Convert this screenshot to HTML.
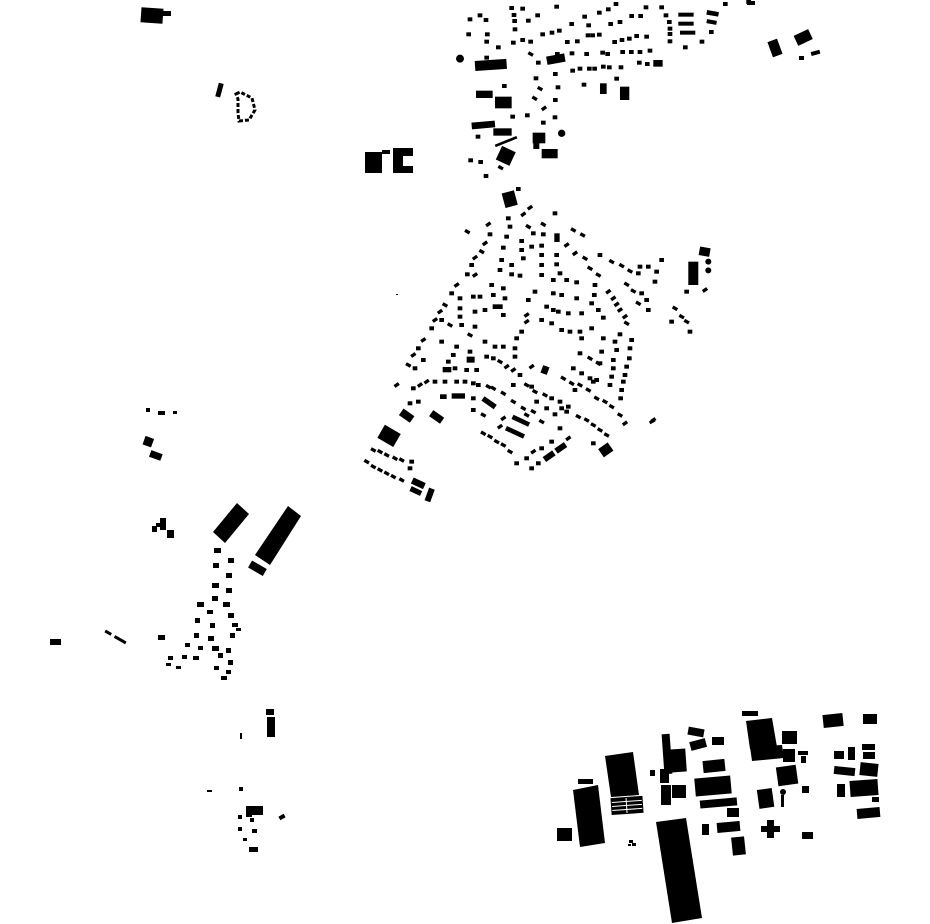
<!DOCTYPE html>
<html><head><meta charset="utf-8"><style>html,body{margin:0;padding:0;background:#fff;width:930px;height:924px;overflow:hidden}svg{display:block}</style></head><body>
<svg width="930" height="924" viewBox="0 0 930 924" xmlns="http://www.w3.org/2000/svg">
<defs>
<rect id="b" x="-7" y="-6" width="14" height="12"/>
<rect id="r" x="-8" y="-5" width="16" height="10" transform="rotate(30)"/>
<rect id="q" x="-8" y="-5" width="16" height="10" transform="rotate(-35)"/>
</defs>
<g fill="#000">
<!-- north town -->
<g transform="translate(440,0) scale(0.3333)">
<circle cx="60" cy="176" r="12"/><circle cx="365" cy="400" r="11"/>
<rect x="105" y="180" width="95" height="30" transform="rotate(-4 150 195)"/>
<rect x="108" y="272" width="50" height="22"/><rect x="95" y="365" width="70" height="20" transform="rotate(-5 130 375)"/>
<rect x="160" y="385" width="55" height="22"/><rect x="165" y="290" width="50" height="35"/>
<rect x="163" y="420" width="70" height="8" transform="rotate(-22 200 424)"/>
<rect x="175" y="445" width="45" height="45" transform="rotate(25 197 467)"/>
<rect x="278" y="398" width="38" height="32"/><rect x="280" y="425" width="18" height="22"/>
<rect x="305" y="447" width="48" height="28"/><rect x="320" y="165" width="55" height="25" transform="rotate(-10 347 177)"/>
<rect x="540" y="260" width="28" height="40"/><rect x="480" y="250" width="20" height="32"/>
<rect x="715" y="38" width="46" height="12"/><rect x="715" y="65" width="46" height="12"/><rect x="720" y="92" width="46" height="12"/>
<rect x="800" y="33" width="36" height="14" transform="rotate(10 818 40)"/><rect x="800" y="60" width="30" height="12" transform="rotate(10 815 66)"/>
<rect x="990" y="120" width="30" height="48" transform="rotate(-20 1005 144)"/>
<rect x="640" y="180" width="28" height="20"/>
<use href="#b" x="90" y="58"/><use href="#b" x="120" y="46"/><use href="#b" x="138" y="60"/><use href="#b" x="86" y="103"/><use href="#b" x="142" y="103"/><use href="#b" x="140" y="125"/><use href="#b" x="175" y="142"/><use href="#b" x="140" y="173"/><use href="#b" x="193" y="258"/>
<use href="#b" x="215" y="24"/><use href="#b" x="248" y="26"/><use href="#b" x="222" y="45"/><use href="#b" x="224" y="63"/><use href="#b" x="265" y="62"/><use href="#b" x="293" y="46"/><use href="#b" x="225" y="88"/><use href="#b" x="248" y="120"/><use href="#b" x="272" y="125"/><use href="#b" x="220" y="128"/><use href="#b" x="308" y="103"/><use href="#b" x="336" y="98"/><use href="#b" x="358" y="92"/><use href="#b" x="350" y="20"/><use href="#b" x="395" y="72"/><use href="#b" x="434" y="50"/><use href="#b" x="446" y="76"/><use href="#b" x="478" y="38"/><use href="#b" x="505" y="28"/><use href="#b" x="528" y="12"/><use href="#b" x="512" y="72"/><use href="#b" x="540" y="66"/><use href="#b" x="575" y="48"/><use href="#b" x="602" y="48"/><use href="#b" x="618" y="22"/><use href="#b" x="665" y="22"/><use href="#b" x="678" y="46"/><use href="#b" x="688" y="66"/><use href="#b" x="690" y="86"/><use href="#b" x="690" y="102"/><use href="#b" x="690" y="124"/><use href="#b" x="736" y="142"/><use href="#b" x="786" y="125"/><use href="#b" x="814" y="96"/><use href="#b" x="856" y="12"/><use href="#b" x="926" y="6"/>
<use href="#r" x="272" y="162"/><use href="#b" x="295" y="188"/><use href="#b" x="352" y="162"/><use href="#b" x="382" y="126"/><use href="#b" x="412" y="124"/><use href="#b" x="396" y="160"/><use href="#b" x="440" y="162"/><use href="#b" x="488" y="158"/><use href="#b" x="503" y="162"/><use href="#b" x="548" y="156"/><use href="#b" x="574" y="156"/><use href="#b" x="600" y="156"/><use href="#b" x="630" y="152"/><use href="#b" x="444" y="106"/><use href="#b" x="458" y="106"/><use href="#b" x="478" y="104"/><use href="#b" x="524" y="126"/><use href="#b" x="546" y="120"/><use href="#b" x="568" y="116"/><use href="#b" x="590" y="108"/><use href="#b" x="620" y="110"/><use href="#b" x="598" y="188"/><use href="#b" x="622" y="192"/><use href="#b" x="398" y="212"/><use href="#b" x="420" y="206"/><use href="#b" x="448" y="206"/><use href="#b" x="464" y="206"/><use href="#b" x="490" y="200"/><use href="#b" x="508" y="202"/><use href="#b" x="543" y="202"/><use href="#b" x="530" y="236"/><use href="#b" x="432" y="254"/>
<use href="#b" x="288" y="235"/><use href="#r" x="300" y="266"/><use href="#b" x="346" y="222"/><use href="#b" x="354" y="262"/><use href="#r" x="284" y="295"/><use href="#b" x="346" y="300"/><use href="#q" x="312" y="325"/><use href="#b" x="218" y="350"/><use href="#b" x="262" y="346"/><use href="#b" x="310" y="368"/><use href="#b" x="345" y="352"/><use href="#b" x="114" y="410"/><use href="#b" x="92" y="481"/><use href="#b" x="122" y="486"/><use href="#r" x="182" y="503"/><use href="#b" x="138" y="528"/>
</g>
<!-- NE bits -->
<rect x="770" y="40" width="10" height="16" transform="rotate(-20 775 48)"/>
<rect x="795" y="32" width="16" height="11" transform="rotate(-25 803 37)"/><rect x="799" y="56" width="5" height="4"/><rect x="811" y="51" width="9" height="4" transform="rotate(-15 815 53)"/><rect x="747" y="1" width="8" height="4"/>
<!-- NW -->
<rect x="141" y="8" width="22" height="15" transform="rotate(4 152 15)"/><rect x="161" y="11" width="10" height="5"/>
<rect x="217" y="83" width="5" height="14" transform="rotate(15 219 90)"/>
<path d="M236 94 l4 -2 l12 6 l3 12 l-6 10 l-10 1 l-1 -8 l0 -14z" fill="none" stroke="#000" stroke-width="3" stroke-dasharray="4 2"/>
<rect x="365" y="152" width="17" height="21"/><path d="M393 148h20v8h-10v10h10v7h-20z"/><rect x="382" y="150" width="8" height="4"/>
<!-- middle town -->
<g transform="translate(360,185) scale(0.3333)">
<rect x="430" y="20" width="38" height="45" transform="rotate(-15 449 42)"/>
<rect x="985" y="230" width="30" height="70"/><rect x="1018" y="187" width="32" height="26" transform="rotate(10 1034 200)"/>
<circle cx="1045" cy="230" r="9"/><circle cx="1045" cy="256" r="9"/>
<rect x="60" y="730" width="55" height="45" transform="rotate(30 87 752)"/>
<rect x="155" y="885" width="40" height="20" transform="rotate(25 175 895)"/><rect x="150" y="910" width="35" height="16" transform="rotate(25 167 918)"/><rect x="200" y="910" width="18" height="40" transform="rotate(20 209 930)"/>
<rect x="720" y="780" width="35" height="30" transform="rotate(-35 737 795)"/>
<rect x="275" y="625" width="40" height="16"/><rect x="240" y="628" width="20" height="14"/>
<rect x="120" y="680" width="40" height="24" transform="rotate(35 140 692)"/><rect x="210" y="685" width="40" height="22" transform="rotate(35 230 696)"/>
<rect x="455" y="700" width="55" height="14" transform="rotate(25 482 707)"/><rect x="435" y="735" width="60" height="14" transform="rotate(25 465 742)"/>
<rect x="365" y="645" width="45" height="16" transform="rotate(35 387 653)"/>
<use href="#b" x="475" y="12"/><use href="#q" x="510" y="68"/><use href="#q" x="490" y="88"/><use href="#b" x="445" y="100"/><use href="#b" x="450" y="125"/><use href="#r" x="505" y="125"/><use href="#b" x="520" y="145"/><use href="#r" x="550" y="118"/><use href="#b" x="550" y="148"/><use href="#b" x="585" y="85"/><rect x="583" y="145" width="16" height="26"/>
<use href="#r" x="322" y="140"/><use href="#q" x="385" y="118"/><use href="#b" x="390" y="148"/><use href="#q" x="375" y="175"/><use href="#r" x="365" y="200"/><use href="#q" x="345" y="218"/><use href="#b" x="335" y="240"/><use href="#b" x="322" y="268"/><use href="#q" x="345" y="270"/>
<use href="#b" x="440" y="155"/><use href="#b" x="430" y="188"/><use href="#b" x="485" y="168"/><use href="#b" x="485" y="195"/><use href="#b" x="515" y="185"/><use href="#b" x="490" y="220"/><use href="#b" x="545" y="182"/><use href="#b" x="545" y="210"/><use href="#b" x="590" y="210"/><use href="#b" x="590" y="238"/>
<use href="#b" x="425" y="225"/><use href="#b" x="455" y="240"/><use href="#b" x="420" y="255"/><use href="#b" x="455" y="268"/><use href="#b" x="480" y="272"/><use href="#b" x="545" y="240"/><use href="#b" x="545" y="270"/><use href="#b" x="600" y="265"/>
<use href="#r" x="640" y="135"/><use href="#r" x="668" y="150"/><use href="#q" x="620" y="180"/><use href="#q" x="645" y="205"/><use href="#r" x="675" y="220"/><use href="#r" x="690" y="250"/><use href="#b" x="720" y="210"/><use href="#r" x="715" y="270"/><use href="#r" x="755" y="230"/><use href="#r" x="785" y="242"/><use href="#r" x="810" y="258"/><use href="#b" x="835" y="265"/><use href="#b" x="840" y="245"/><use href="#b" x="865" y="245"/><use href="#b" x="890" y="260"/><use href="#b" x="905" y="225"/><use href="#b" x="885" y="290"/>
<use href="#b" x="580" y="285"/><use href="#b" x="620" y="285"/><use href="#b" x="650" y="292"/><use href="#b" x="705" y="300"/><use href="#r" x="800" y="298"/><use href="#r" x="820" y="318"/><use href="#b" x="845" y="325"/><use href="#r" x="835" y="355"/><use href="#b" x="860" y="345"/><use href="#b" x="865" y="375"/>
<use href="#q" x="745" y="320"/><use href="#q" x="760" y="340"/><use href="#q" x="770" y="358"/><use href="#q" x="780" y="375"/><use href="#q" x="795" y="395"/><use href="#r" x="800" y="415"/><use href="#b" x="703" y="330"/><use href="#b" x="695" y="355"/><use href="#b" x="715" y="375"/><use href="#b" x="730" y="398"/><use href="#b" x="695" y="430"/>
<use href="#b" x="580" y="325"/><use href="#b" x="605" y="330"/><use href="#b" x="650" y="340"/><use href="#b" x="580" y="375"/><use href="#b" x="595" y="380"/><use href="#b" x="625" y="385"/><use href="#b" x="665" y="385"/><use href="#b" x="560" y="365"/>
<use href="#b" x="545" y="405"/><use href="#b" x="575" y="415"/><use href="#b" x="605" y="435"/><use href="#b" x="630" y="440"/><use href="#b" x="660" y="440"/><use href="#b" x="665" y="460"/>
<use href="#b" x="525" y="320"/><use href="#b" x="505" y="345"/><use href="#q" x="500" y="390"/><use href="#q" x="500" y="410"/><use href="#b" x="485" y="440"/><use href="#b" x="470" y="460"/><use href="#b" x="465" y="490"/><use href="#b" x="465" y="515"/>
<use href="#b" x="395" y="300"/><use href="#b" x="430" y="310"/><use href="#b" x="400" y="330"/><use href="#b" x="360" y="335"/><use href="#b" x="340" y="335"/><use href="#b" x="300" y="340"/><use href="#q" x="290" y="300"/><use href="#b" x="275" y="325"/><use href="#b" x="300" y="370"/><use href="#b" x="300" y="395"/><use href="#b" x="345" y="380"/><use href="#b" x="375" y="375"/><rect x="398" y="358" width="30" height="14"/><use href="#b" x="430" y="390"/><use href="#b" x="435" y="340"/>
<use href="#r" x="255" y="360"/><use href="#q" x="240" y="380"/><use href="#q" x="225" y="405"/><use href="#b" x="245" y="405"/><use href="#b" x="215" y="430"/><use href="#r" x="270" y="420"/><use href="#b" x="305" y="420"/><use href="#r" x="330" y="450"/><use href="#b" x="345" y="425"/>
<use href="#q" x="190" y="465"/><use href="#b" x="175" y="490"/><use href="#q" x="160" y="510"/><use href="#r" x="145" y="540"/><use href="#b" x="165" y="550"/><use href="#b" x="190" y="525"/><use href="#b" x="245" y="470"/><use href="#b" x="290" y="485"/><use href="#b" x="280" y="510"/><use href="#b" x="265" y="530"/><rect x="248" y="546" width="26" height="16"/><use href="#b" x="285" y="550"/>
<use href="#b" x="330" y="500"/><rect x="320" y="515" width="24" height="18"/><use href="#b" x="320" y="555"/><use href="#b" x="350" y="555"/><use href="#b" x="380" y="515"/><use href="#b" x="400" y="520"/><use href="#r" x="420" y="530"/><use href="#q" x="440" y="545"/><use href="#q" x="460" y="555"/><use href="#b" x="480" y="570"/><use href="#b" x="405" y="485"/><use href="#b" x="375" y="470"/><use href="#b" x="430" y="485"/>
<use href="#q" x="180" y="600"/><use href="#q" x="200" y="590"/><use href="#b" x="225" y="590"/><use href="#b" x="255" y="590"/><use href="#b" x="290" y="590"/><use href="#b" x="315" y="590"/><use href="#b" x="340" y="595"/><use href="#b" x="355" y="600"/><use href="#r" x="385" y="605"/><use href="#r" x="400" y="610"/><use href="#r" x="430" y="625"/><use href="#b" x="460" y="600"/><use href="#r" x="500" y="600"/><use href="#b" x="515" y="605"/><use href="#r" x="525" y="620"/><use href="#r" x="555" y="630"/><use href="#b" x="575" y="640"/><use href="#b" x="600" y="650"/><use href="#b" x="625" y="665"/>
<use href="#q" x="515" y="545"/><rect x="545" y="543" width="20" height="24" transform="rotate(20 555 555)"/><use href="#r" x="610" y="580"/><use href="#r" x="635" y="595"/><use href="#r" x="660" y="600"/><use href="#r" x="685" y="615"/><use href="#b" x="700" y="590"/><use href="#r" x="710" y="640"/><use href="#r" x="735" y="650"/><use href="#r" x="755" y="665"/><use href="#r" x="780" y="690"/><use href="#q" x="795" y="715"/><use href="#b" x="645" y="615"/>
<use href="#b" x="780" y="448"/><use href="#b" x="765" y="470"/><use href="#b" x="770" y="495"/><use href="#b" x="760" y="525"/><use href="#b" x="760" y="550"/><use href="#b" x="755" y="575"/><use href="#b" x="750" y="600"/><use href="#b" x="785" y="615"/><use href="#b" x="782" y="640"/><use href="#b" x="730" y="460"/><use href="#b" x="725" y="500"/><use href="#b" x="720" y="535"/><use href="#b" x="815" y="465"/><use href="#b" x="810" y="490"/><use href="#b" x="808" y="520"/><use href="#b" x="800" y="545"/><use href="#b" x="795" y="570"/><use href="#b" x="790" y="590"/>
<use href="#b" x="660" y="505"/><use href="#r" x="690" y="520"/><use href="#r" x="715" y="535"/><use href="#b" x="640" y="550"/><use href="#b" x="665" y="565"/><use href="#b" x="690" y="580"/><use href="#b" x="710" y="585"/>
<use href="#q" x="110" y="600"/><use href="#b" x="160" y="610"/><use href="#b" x="175" y="650"/><use href="#b" x="150" y="655"/><use href="#b" x="340" y="640"/><use href="#r" x="370" y="690"/><use href="#b" x="340" y="675"/><use href="#r" x="460" y="650"/><use href="#r" x="490" y="670"/><use href="#r" x="520" y="680"/><use href="#r" x="545" y="710"/><use href="#r" x="500" y="690"/><use href="#b" x="530" y="650"/><use href="#b" x="560" y="670"/><use href="#b" x="585" y="688"/><use href="#b" x="605" y="670"/><use href="#b" x="620" y="680"/>
<use href="#q" x="430" y="700"/><use href="#q" x="420" y="725"/><use href="#r" x="370" y="745"/><use href="#r" x="390" y="755"/><use href="#r" x="410" y="770"/><use href="#r" x="430" y="780"/><use href="#r" x="450" y="800"/><use href="#b" x="470" y="835"/><use href="#b" x="500" y="820"/><use href="#q" x="520" y="800"/><use href="#b" x="545" y="790"/><use href="#b" x="575" y="770"/><rect x="585" y="780" width="35" height="18" transform="rotate(-35 602 789)"/><use href="#b" x="600" y="730"/><use href="#q" x="625" y="760"/><rect x="550" y="805" width="35" height="18" transform="rotate(-35 567 814)"/><use href="#r" x="655" y="695"/><use href="#r" x="680" y="705"/><use href="#r" x="700" y="720"/><use href="#r" x="720" y="735"/><use href="#r" x="740" y="750"/><use href="#b" x="700" y="775"/><use href="#b" x="515" y="850"/><use href="#b" x="535" y="835"/>
<use href="#r" x="40" y="795"/><use href="#r" x="60" y="800"/><use href="#r" x="80" y="810"/><use href="#r" x="105" y="820"/><use href="#r" x="125" y="825"/><use href="#b" x="155" y="830"/><use href="#b" x="150" y="850"/><use href="#r" x="20" y="830"/><use href="#r" x="40" y="845"/><use href="#r" x="60" y="855"/><use href="#r" x="80" y="865"/><use href="#r" x="100" y="875"/><use href="#r" x="125" y="885"/>
<use href="#q" x="880" y="705"/><use href="#q" x="1035" y="315"/><use href="#b" x="980" y="320"/><use href="#r" x="945" y="370"/><use href="#r" x="965" y="395"/><use href="#r" x="980" y="410"/><use href="#b" x="990" y="440"/><use href="#b" x="935" y="410"/>
</g>
<rect x="396" y="294" width="2" height="1"/><rect x="649" y="420" width="6" height="3" transform="rotate(-30 652 421)"/>
<!-- west -->
<rect x="146" y="408" width="4" height="4"/><rect x="158" y="411" width="7" height="4"/><rect x="173" y="411" width="4" height="3"/>
<rect x="144" y="437" width="9" height="9" transform="rotate(20 148 441)"/><rect x="150" y="452" width="12" height="7" transform="rotate(20 156 455)"/>
<rect x="152" y="526" width="5" height="6"/><rect x="160" y="518" width="6" height="12"/><rect x="167" y="530" width="7" height="8"/><rect x="156" y="523" width="4" height="4"/>
<path d="M237 503 L249 514 L225 543 L213 532Z"/><path d="M288 506 L301 516 L270 565 L255 555Z"/><rect x="249" y="564" width="17" height="8" transform="rotate(30 257 568)"/>
<g>
<rect x="214" y="548" width="7" height="5"/><rect x="228" y="558" width="6" height="5"/><rect x="213" y="563" width="6" height="5"/><rect x="226" y="573" width="6" height="5"/><rect x="212" y="583" width="7" height="5"/><rect x="226" y="588" width="6" height="5"/><rect x="212" y="596" width="6" height="5"/><rect x="223" y="602" width="7" height="5"/><rect x="197" y="602" width="7" height="5"/><rect x="207" y="610" width="6" height="4"/><rect x="228" y="613" width="6" height="5"/><rect x="195" y="618" width="5" height="5"/><rect x="210" y="623" width="5" height="5"/><rect x="232" y="623" width="6" height="4"/><rect x="194" y="633" width="5" height="5"/><rect x="208" y="636" width="6" height="5"/><rect x="230" y="633" width="5" height="5"/><rect x="185" y="643" width="5" height="4"/><rect x="198" y="646" width="5" height="4"/><rect x="212" y="646" width="7" height="5"/><rect x="226" y="648" width="5" height="5"/><rect x="168" y="656" width="5" height="4"/><rect x="182" y="655" width="5" height="4"/><rect x="193" y="656" width="6" height="4"/><rect x="218" y="653" width="5" height="5"/><rect x="228" y="660" width="5" height="5"/><rect x="166" y="663" width="5" height="3"/><rect x="176" y="666" width="5" height="3"/><rect x="214" y="666" width="5" height="4"/><rect x="226" y="670" width="5" height="4"/><rect x="221" y="676" width="6" height="4"/><rect x="158" y="635" width="7" height="5"/><rect x="236" y="628" width="5" height="3"/>
</g>
<rect x="50" y="639" width="11" height="6"/><rect x="105" y="631" width="7" height="3" transform="rotate(30 108 632)"/><rect x="114" y="638" width="13" height="3" transform="rotate(30 120 639)"/>
<!-- south small -->
<rect x="266" y="709" width="8" height="6"/><rect x="267" y="717" width="8" height="20"/><rect x="240" y="733" width="2" height="6"/><rect x="207" y="790" width="5" height="2"/><rect x="239" y="787" width="4" height="4"/><rect x="246" y="806" width="17" height="9"/><rect x="246" y="813" width="6" height="4"/><rect x="238" y="815" width="4" height="4"/><rect x="250" y="818" width="4" height="4"/><rect x="238" y="827" width="4" height="4"/><rect x="252" y="829" width="5" height="4"/><rect x="243" y="838" width="4" height="3"/><rect x="249" y="847" width="9" height="5"/><rect x="279" y="815" width="6" height="4" transform="rotate(-30 282 817)"/>
<!-- industrial -->
<path d="M656 822 L686 818 L702 918 L672 923Z"/>
<path d="M573 790 L598 785 L605 843 L580 847Z"/>
<rect x="578" y="779" width="15" height="5"/>
<rect x="557" y="828" width="15" height="13"/>
<path d="M605 756 L633 752 L639 795 L611 797Z"/>
<g transform="rotate(-4 626 805)"><rect x="611" y="797" width="32" height="17"/><rect x="612" y="801" width="30" height="1" fill="#fff"/><rect x="612" y="805" width="30" height="1" fill="#fff"/><rect x="612" y="809" width="30" height="1" fill="#fff"/><rect x="626" y="798" width="1" height="15" fill="#fff"/></g>
<rect x="663" y="734" width="8" height="40" transform="rotate(-4 667 754)"/><rect x="671" y="749" width="15" height="23" transform="rotate(-4 678 760)"/>
<rect x="650" y="770" width="5" height="6"/><rect x="660" y="769" width="9" height="14"/><rect x="661" y="785" width="10" height="20"/><rect x="672" y="785" width="14" height="13"/>
<rect x="688" y="728" width="16" height="8" transform="rotate(10 696 732)"/><rect x="690" y="740" width="16" height="9" transform="rotate(-15 698 744)"/><rect x="712" y="737" width="12" height="8"/>
<rect x="703" y="760" width="22" height="12" transform="rotate(-6 714 766)"/>
<rect x="695" y="777" width="36" height="18" transform="rotate(-5 713 786)"/>
<rect x="700" y="799" width="37" height="8" transform="rotate(-5 718 803)"/>
<rect x="727" y="808" width="12" height="9"/><rect x="702" y="824" width="7" height="11"/><rect x="717" y="822" width="23" height="10" transform="rotate(-5 728 827)"/><rect x="732" y="837" width="13" height="18" transform="rotate(-6 738 846)"/>
<rect x="742" y="711" width="16" height="5"/><path d="M746 721 L772 718 L777 747 L750 749Z"/><path d="M750 747 L782 745 L784 758 L752 761Z"/>
<rect x="782" y="731" width="15" height="13"/><rect x="783" y="749" width="12" height="13"/><rect x="798" y="751" width="10" height="4"/><rect x="801" y="756" width="5" height="7"/>
<rect x="777" y="766" width="20" height="19" transform="rotate(-8 787 775)"/><rect x="802" y="786" width="7" height="7"/>
<rect x="758" y="789" width="15" height="19" transform="rotate(-8 765 798)"/><rect x="781" y="795" width="3" height="12"/><circle cx="783" cy="792" r="3"/>
<path d="M767 820 h7 v6 h6 v6 h-6 v6 h-7 v-6 h-6 v-6 h6z"/>
<rect x="802" y="832" width="11" height="7"/>
<rect x="823" y="714" width="20" height="13" transform="rotate(-6 833 720)"/><rect x="863" y="714" width="14" height="10"/>
<rect x="834" y="751" width="10" height="8"/><rect x="848" y="747" width="7" height="13"/><rect x="862" y="744" width="13" height="6"/><rect x="863" y="752" width="12" height="7"/>
<rect x="834" y="767" width="21" height="8" transform="rotate(6 844 771)"/><rect x="860" y="763" width="18" height="13" transform="rotate(6 869 769)"/>
<rect x="837" y="784" width="8" height="13"/><rect x="850" y="780" width="28" height="16" transform="rotate(-4 864 788)"/><rect x="872" y="797" width="7" height="5"/><rect x="857" y="808" width="23" height="10" transform="rotate(-5 868 813)"/>
<rect x="629" y="840" width="4" height="3"/><rect x="632" y="843" width="4" height="3"/><rect x="628" y="844" width="3" height="2"/>
</g>
</svg>
</body></html>
